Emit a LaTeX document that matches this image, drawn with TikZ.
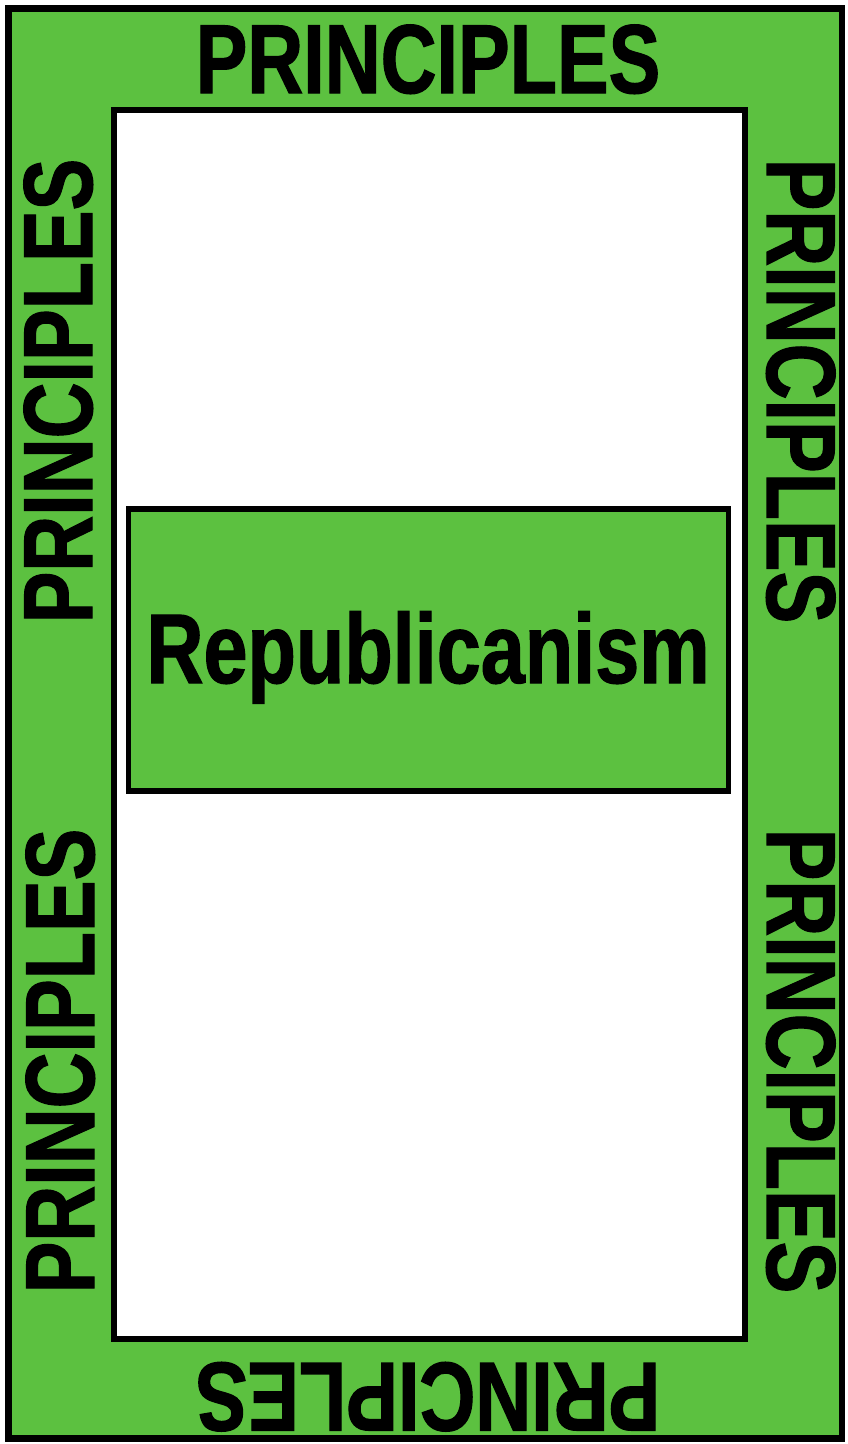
\documentclass[tikz,border=0pt]{standalone}
\usepackage{fontspec}
\newfontfamily\nbfont{Liberation Sans}[FakeStretch=0.79,FakeBold=1.2]
\newfontfamily\nbwide{Liberation Sans}[FakeStretch=0.80,FakeBold=1.2]
\definecolor{pgreen}{RGB}{92,193,64}
\begin{document}
\begin{tikzpicture}[x=1pt,y=-1pt,
  frame/.style={draw=black,line width=6.5pt},
  lbl/.style={font=\nbfont\bfseries\fontsize{98}{98}\selectfont,inner sep=0pt,anchor=base,text=black}]
\useasboundingbox (0,0) rectangle (848,1444);
\fill[white] (0,0) rectangle (848,1444);
\draw[frame,fill=pgreen] (8.5,8.5) rectangle (842,1438.5);
\draw[frame,fill=white] (114,110) rectangle (745,1339);
\node[draw=black,line width=5.5pt,fill=pgreen,minimum width=600pt,minimum height=282pt,inner sep=0pt] (box) at (428.5,650) {};
\node[lbl,font=\nbwide\bfseries\fontsize{99}{99}\selectfont] (rep) at (428,683) {Republicanism};
\node[lbl] (top) at (428,93) {PRINCIPLES};
\node[lbl,rotate=180] (bot) at (428,1363) {PRINCIPLES};
\node[lbl,rotate=90] (lu) at (92,391) {PRINCIPLES};
\node[lbl,rotate=90] (ll) at (94,1061) {PRINCIPLES};
\node[lbl,rotate=-90] (ru) at (767,391) {PRINCIPLES};
\node[lbl,rotate=-90] (rl) at (767,1061) {PRINCIPLES};
\end{tikzpicture}
\end{document}
